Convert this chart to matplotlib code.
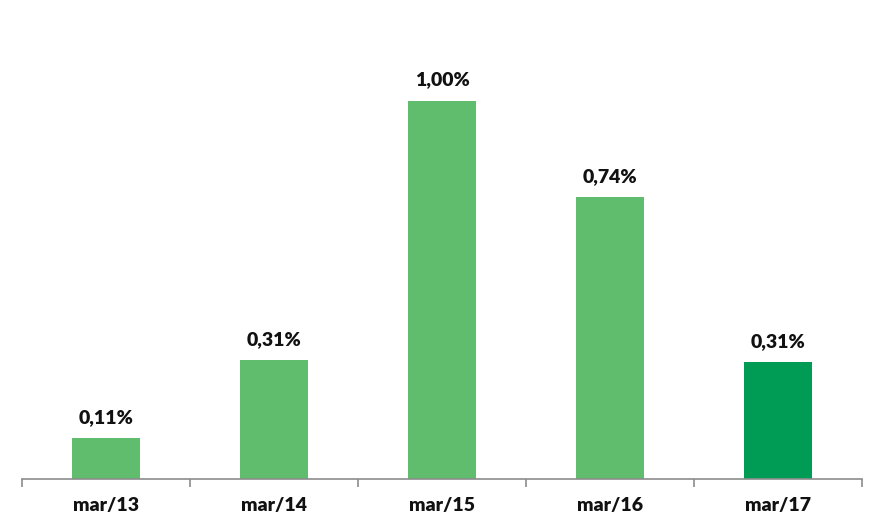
import matplotlib.pyplot as plt

# data
periods = ['mar/13', 'mar/14', 'mar/15', 'mar/16', 'mar/17']
values = [0.108, 0.314, 1.00, 0.745, 0.309]
colors = ['#60BD6E', '#60BD6E', '#60BD6E', '#60BD6E', '#009B55']

plt.rcParams['font.family'] = ['Lato', 'DejaVu Sans']

fig = plt.figure(figsize=(8.86, 5.31), dpi=100)
ax = fig.add_axes([22 / 886, 1 - 479 / 531, 840 / 886, 479 / 531])

x = range(len(periods))
bars = ax.bar(x, values, width=0.405, color=colors)

for b, v in zip(bars, values):
    txt = f"{v:.2f}".replace('.', ',') + '%'
    ax.annotate(txt, (b.get_x() + b.get_width() / 2, v), xytext=(0, 9),
                textcoords='offset points', ha='center', va='bottom',
                fontsize=14, fontweight='heavy', color='#111111')

ax.set_xlim(-0.5, len(periods) - 0.5)
ax.set_ylim(0, 479 / 378)

for s in ['top', 'right', 'left']:
    ax.spines[s].set_visible(False)
ax.spines['bottom'].set_color('#8c8c8c')
ax.spines['bottom'].set_linewidth(1.2)
ax.set_yticks([])

ax.set_xticks([i - 0.5 for i in range(len(periods) + 1)], minor=False)
ax.set_xticklabels([])
ax.tick_params(axis='x', which='major', length=6, color='#8c8c8c', width=1.2)
ax.set_xticks(list(x), minor=True)
ax.set_xticklabels(periods, minor=True, fontsize=14, fontweight='heavy', color='#111111')
ax.tick_params(axis='x', which='minor', length=0, pad=13)

fig.savefig('out.png', dpi=100)
